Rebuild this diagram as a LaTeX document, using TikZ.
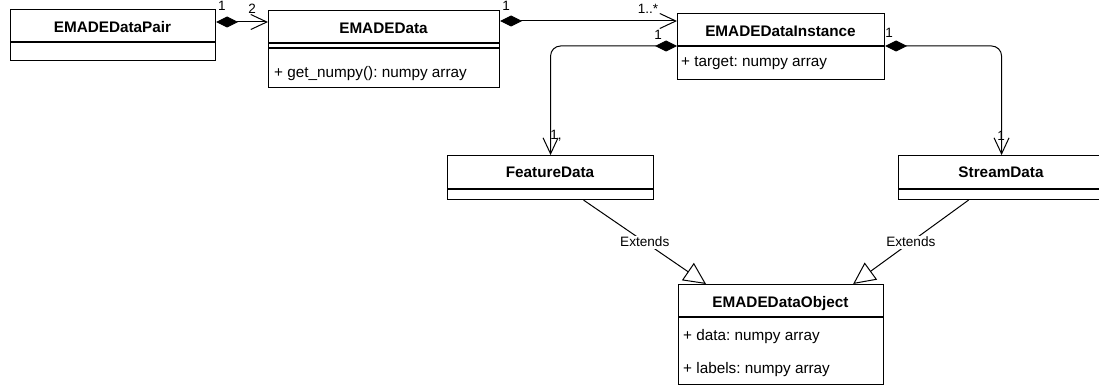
\documentclass[tikz,border=0pt]{standalone}
\usepackage{fontspec}
\setmainfont{Liberation Sans}
\usetikzlibrary{arrows.meta}
\frenchspacing
\begin{document}
\begin{tikzpicture}[x=1pt,y=-1pt,
  cls/.style={draw=black, line width=1.1pt, fill=white, inner sep=0pt, anchor=north west},
  title/.style={font=\fontsize{15.3}{18}\selectfont\bfseries, anchor=base, inner sep=0pt},
  member/.style={font=\fontsize{15.3}{18}\selectfont, anchor=base west, inner sep=0pt},
  mult/.style={font=\fontsize{13.5}{16}\selectfont, inner sep=0pt},
  ext/.style={font=\fontsize{13.6}{16}\selectfont, fill=white, inner sep=1.5pt},
  wire/.style={draw=black, line width=1pt},
  compose/.style={wire, {Diamond[length=22pt,width=11pt,fill=black]}-{Straight Barb[length=16pt,width=15pt,line width=1pt]}},
  inherit/.style={wire, -{Triangle[open,length=22pt,width=21pt,fill=white,line width=1pt]}}
]
\useasboundingbox (0,0) rectangle (1099,387);

% class boxes
\node[cls, minimum width=205pt, minimum height=51pt] (pair) at (10,9) {};
\node[cls, minimum width=231pt, minimum height=77pt] (data) at (268,10) {};
\node[cls, minimum width=207pt, minimum height=66pt] (inst) at (677,13) {};
\node[cls, minimum width=206pt, minimum height=44pt] (feat) at (447,155) {};
\node[cls, minimum width=206pt, minimum height=44pt] (stream) at (898,155) {};
\node[cls, minimum width=205pt, minimum height=100pt] (obj) at (678,284) {};

% compartment separators
\draw[line width=1.1pt] ([yshift=-33pt]pair.north west) -- ([yshift=-33pt]pair.north east);
\draw[line width=1.1pt] ([yshift=-33pt]data.north west) -- ([yshift=-33pt]data.north east);
\draw[line width=1.1pt] ([yshift=-38pt]data.north west) -- ([yshift=-38pt]data.north east);
\draw[line width=1.1pt] ([yshift=-33pt]inst.north west) -- ([yshift=-33pt]inst.north east);
\draw[line width=1.1pt] ([yshift=-34pt]feat.north west) -- ([yshift=-34pt]feat.north east);
\draw[line width=1.1pt] ([yshift=-34pt]stream.north west) -- ([yshift=-34pt]stream.north east);
\draw[line width=1.1pt] ([yshift=-33pt]obj.north west) -- ([yshift=-33pt]obj.north east);

% class names
\node[title] (pairT) at (112.5,33) {EMADEDataPair};
\node[title] (dataT) at (383.5,34) {EMADEData};
\node[title] (instT) at (780.5,37) {EMADEDataInstance};
\node[title] (featT) at (550,178) {FeatureData};
\node[title] (streamT) at (1001,178) {StreamData};
\node[title] (objT) at (780.5,307) {EMADEDataObject};

% members
\node[member] (dataM) at (274,78) {+ get\_numpy(): numpy array};
\node[member] (instA) at (681,67) {+ target: numpy array};
\node[member] (objA) at (683,340) {+ data: numpy array};
\node[member] (objB) at (683,373) {+ labels: numpy array};

% compositions
\draw[compose] ([yshift=-13pt]pair.north east) -- ([yshift=-12pt]data.north west);
\draw[compose] ([yshift=-11pt]data.north east) -- ([yshift=-8pt]inst.north west);
\draw[compose, rounded corners=10pt] ([yshift=-33pt]inst.north west) -| (feat.north);
\draw[compose, rounded corners=10pt] ([yshift=-33pt]inst.north east) -| (stream.north);

% multiplicities
\node[mult] (m1) at (222,6) {1};
\node[mult] (m2) at (252,9) {2};
\node[mult] (m3) at (506,6) {1};
\node[mult] (m4) at (648,9) {1..*};
\node[mult] (m5) at (658,35) {1};
\node[mult] (m6) at (889,33) {1};
\node[mult] (m7) at (556,136) {1,};
\node[mult] (m8) at (1001,136) {1};

% generalizations
\draw[inherit] ([xshift=33pt]feat.south) -- node[ext] (e1) {Extends} ([xshift=28pt]obj.north west);
\draw[inherit] ([xshift=-33pt]stream.south) -- node[ext] (e2) {Extends} ([xshift=-31pt]obj.north east);
\end{tikzpicture}
\end{document}
